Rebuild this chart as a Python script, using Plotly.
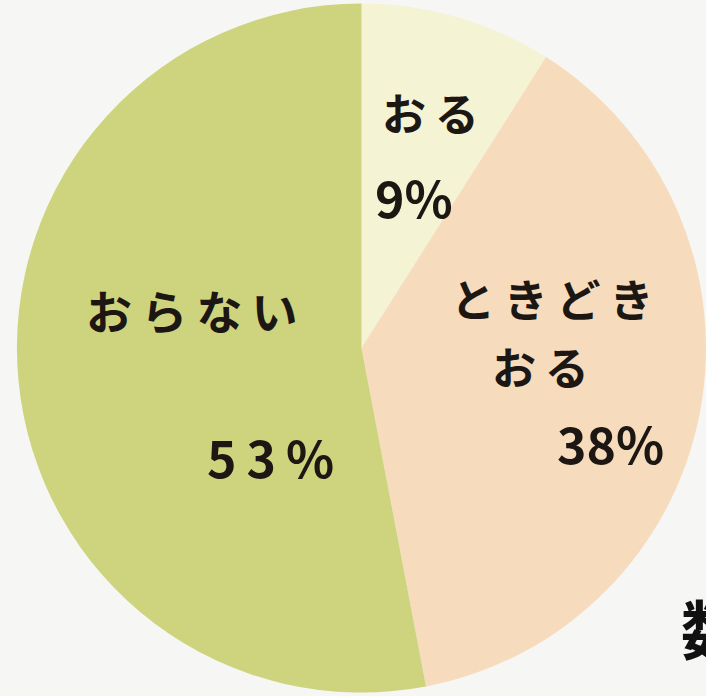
import plotly.graph_objects as go

# Data
categories = ["おる", "ときどきおる", "おらない"]
label_rows = [["お\u2009る"], ["と\u2009き\u2009ど\u2009き", "お\u2009る"], ["お\u2009ら\u2009な\u2009い"]]
values = [9, 38, 53]
percent_labels = ["9%", "38%", "5\u20093\u2009%"]
colors = ["#f4f3d3", "#f6dcbd", "#cdd47d"]

W, H = 706, 696

fig = go.Figure(go.Pie(
    labels=categories,
    values=values,
    sort=False,
    direction="clockwise",
    rotation=0,
    marker=dict(colors=colors, line=dict(width=0)),
    textinfo="none",
    hoverinfo="label+percent",
    domain=dict(x=[0.024, 1.0], y=[0.0, 1.0]),
    showlegend=False,
))

ink = "#1c1713"
FAM = "Noto Sans CJK JP"

# Text placement (pixels from top-left)
name_pos = [[(430, 112)], [(552, 298), (540, 366)], [(192, 309)]]
name_size = [44, 44, 46]
pct_pos = [(414, 196), (610, 442), (270, 456)]
pct_size = [50, 50, 50]

annotations = []
for rows, positions, nsz, pct, (px, py), psz in zip(label_rows, name_pos, name_size,
                                                    percent_labels, pct_pos, pct_size):
    for txt, (nx, ny) in zip(rows, positions):
        annotations.append(dict(x=nx / W, y=1 - ny / H, xref="paper", yref="paper",
                                text="<b>" + txt + "</b>", showarrow=False,
                                font=dict(family=FAM, size=nsz, color=ink),
                                xanchor="center", yanchor="middle"))
    annotations.append(dict(x=px / W, y=1 - py / H, xref="paper", yref="paper",
                            text="<b>" + pct + "</b>", showarrow=False,
                            font=dict(family=FAM, size=psz, color=ink),
                            xanchor="center", yanchor="middle"))

# character partly outside the photo at the right edge
annotations.append(dict(x=679 / W, y=1 - 626 / H, xref="paper", yref="paper",
                        text="<b>数</b>", showarrow=False,
                        font=dict(family=FAM, size=64, color="#111111"),
                        xanchor="left", yanchor="middle"))

fig.update_layout(
    width=W, height=H,
    margin=dict(l=0, r=0, t=0, b=0),
    paper_bgcolor="#f6f6f4",
    plot_bgcolor="#f6f6f4",
    annotations=annotations,
)

fig.write_html("out.html",
               config={"displayModeBar": False},
               post_script="document.body.style.margin='0';document.body.style.overflow='hidden';")
